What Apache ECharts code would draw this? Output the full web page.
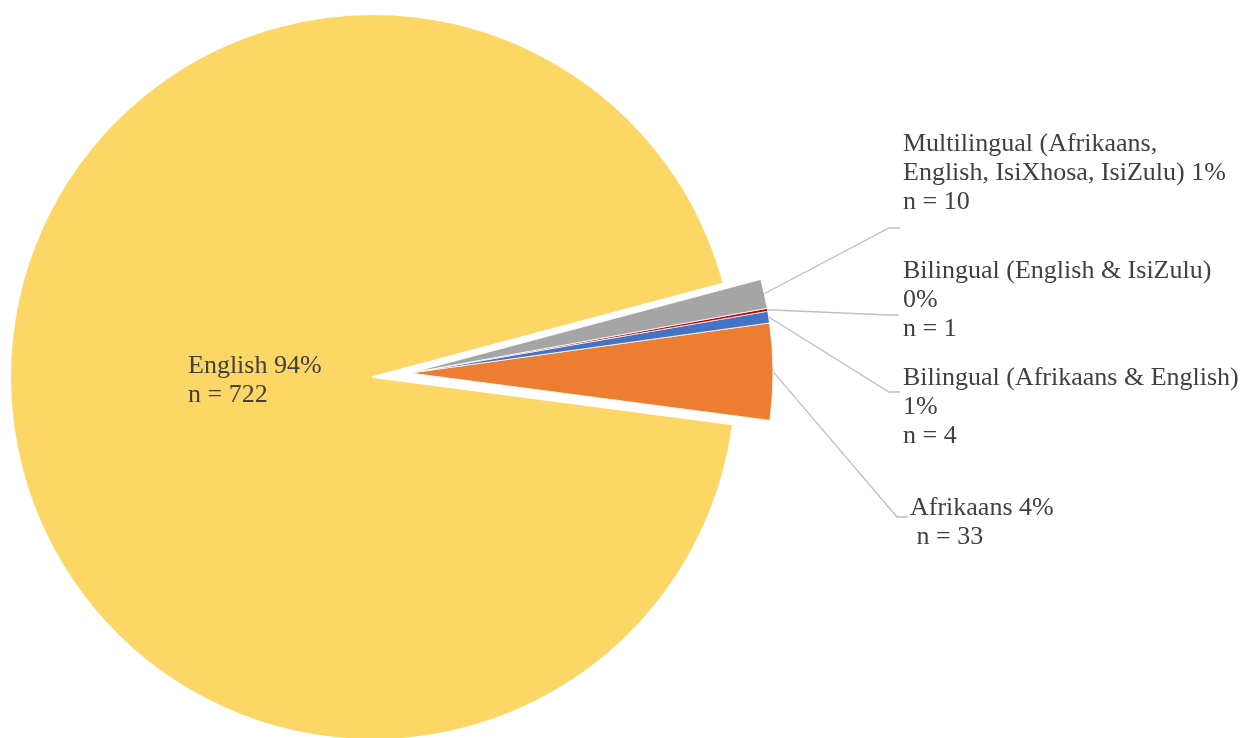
<!DOCTYPE html>
<html>
<head>
<meta charset="utf-8">
<script src="https://cdn.jsdelivr.net/npm/echarts@6/dist/echarts.min.js"></script>
<style>
  html, body { margin: 0; padding: 0; background: #fff; }
  #chart { width: 1253px; height: 738px; }
</style>
</head>
<body>
<div id="chart"></div>
<script>
// categories in drawing order (counter-clockwise from the lower edge of Afrikaans)
var categories = ['Afrikaans', 'Bilingual (Afrikaans & English)', 'Bilingual (English & IsiZulu)', 'Multilingual (Afrikaans, English, IsiXhosa, IsiZulu)', 'English']
var counts = [33, 4, 1, 10, 722]
var displayNames = ['Afrikaans', 'Bilingual (Afrikaans & English)', 'Bilingual (English & IsiZulu)', 'Multilingual (Afrikaans,\nEnglish, IsiXhosa, IsiZulu)', 'English']
var labelTemplates = ['{name} {pct}%\n n = {n}', '{name}\n{pct}%\nn = {n}', '{name}\n{pct}%\nn = {n}', '{name} {pct}%\nn = {n}', '{name} {pct}%\nn = {n}']
var colors = ['#ED7D31', '#4472C4', '#C00000', '#A5A5A5', '#FDD766']
var exploded = [true, true, true, true, false]

// label placement (top-left of text block) and leader line end points
var labelBoxes = [[910, 494], [903, 364], [903, 257], [903, 130], [188, 352]]
var lineEnds = [[908, 517], [900, 392], [899, 315], [900, 228], null]

var chart = echarts.init(document.getElementById('chart'))

var labelStyle = {
  show: true,
  fontFamily: 'Liberation Serif',
  fontSize: 26,
  lineHeight: 29,
  color: '#404040',
  align: 'left',
  formatter: function (p) {
    var i = p.dataIndex
    return labelTemplates[i]
      .replace('{name}', displayNames[i])
      .replace('{pct}', p.percent)
      .replace('{n}', p.value)
  }
}

// same data in both series; each one shows only its own slices
function buildData(showExploded) {
  return categories.map(function (name, i) {
    var visible = exploded[i] === showExploded
    var item = { name: name, value: counts[i] }
    if (visible) {
      item.itemStyle = { color: colors[i] }
    } else {
      item.itemStyle = { color: 'transparent', borderColor: 'transparent' }
      item.label = { show: false }
      item.labelLine = { show: false }
    }
    return item
  })
}

function layoutLabel(params) {
  var i = params.dataIndex
  var box = labelBoxes[i]
  var out = { x: box[0], y: box[1], align: 'left', verticalAlign: 'top' }
  var end = lineEnds[i]
  if (end && params.labelLinePoints) {
    var start = params.labelLinePoints[0]
    out.labelLinePoints = [start, [end[0] - 11, end[1]], end]
  }
  return out
}

var common = {
  type: 'pie',
  radius: 363,
  startAngle: -7.5,
  clockwise: false,
  percentPrecision: 0,
  avoidLabelOverlap: false,
  silent: true,
  emphasis: { disabled: true },
  labelLayout: layoutLabel
}

chart.setOption({
  animation: false,
  series: [
    Object.assign({}, common, {
      name: 'main',
      center: [373, 377],
      itemStyle: { borderColor: '#fff', borderWidth: 2 },
      label: Object.assign({}, labelStyle, { position: 'inside' }),
      labelLine: { show: false },
      data: buildData(false)
    }),
    Object.assign({}, common, {
      name: 'exploded',
      center: [410, 373],
      itemStyle: { borderColor: '#fff', borderWidth: 0.8 },
      label: Object.assign({}, labelStyle, { position: 'outside' }),
      labelLine: {
        show: true,
        smooth: false,
        lineStyle: { color: '#BFBFBF', width: 1.3 }
      },
      data: buildData(true)
    })
  ]
})
</script>
</body>
</html>
